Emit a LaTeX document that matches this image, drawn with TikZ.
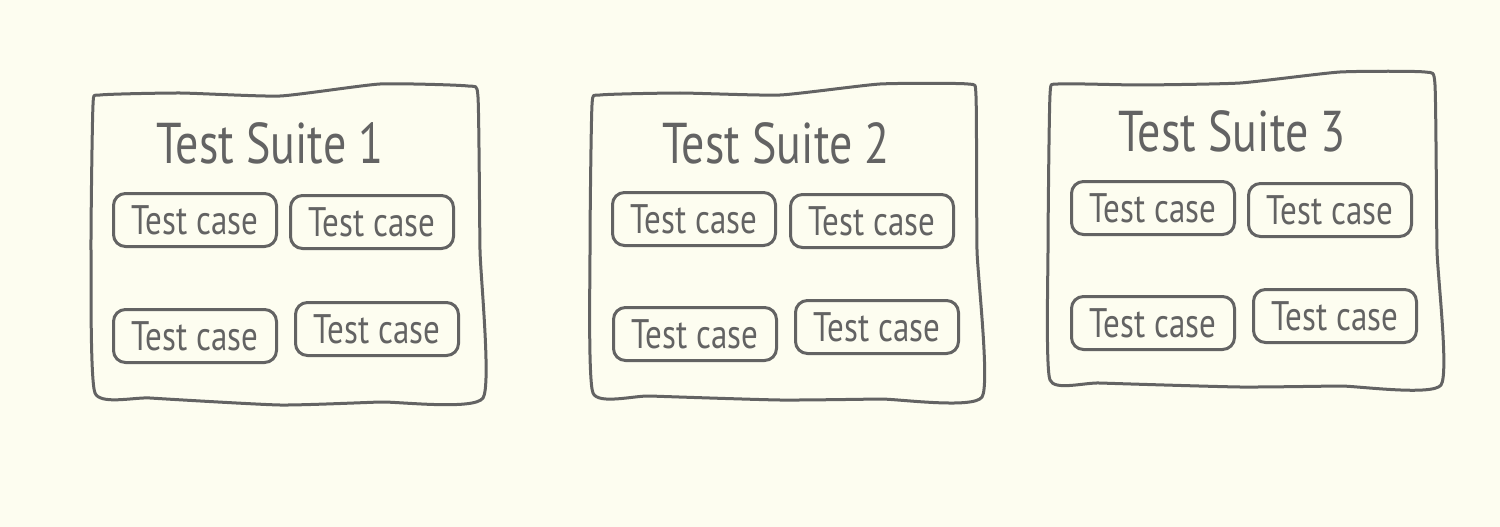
\documentclass[tikz,border=0pt]{standalone}
\usepackage{graphicx}
\usepackage{fontspec}
\setmainfont{PT Sans}
\definecolor{bg}{HTML}{FDFDF0}
\definecolor{ink}{HTML}{636363}
\newcommand{\tall}[1]{\scalebox{1}[1.25]{#1}}
\begin{document}
\begin{tikzpicture}[x=1pt,y=-1pt,
  suiteline/.style={draw=ink,line width=3pt,line join=round},
  casebox/.style={draw=ink,line width=3pt,rounded corners=12pt,minimum width=163pt,minimum height=53pt,inner sep=0pt,text=ink,font=\fontsize{33}{38}\selectfont},
  titletext/.style={text=ink,inner sep=0pt,font=\fontsize{46}{52}\selectfont}]
\fill[bg] (0,0) rectangle (1500,527);
\useasboundingbox (0,0) rectangle (1500,527);
% suite 1
\draw[suiteline] plot[smooth cycle,tension=0.3] coordinates {(100,95) (180,93) (280,96) (380,84) (468,86) (478,97) (480,250) (483,398) (380,402) (280,405) (150,398) (95,393) (91,250) (93,105)};
\node[titletext] (t1) at (270,143) {\tall{Test Suite 1}};
\node[casebox] (c11) at (195,220) {\tall{Test case}};
\node[casebox] (c12) at (372,222) {\tall{Test case}};
\node[casebox] (c13) at (195,336) {\tall{Test case}};
\node[casebox] (c14) at (377,329) {\tall{Test case}};
% suite 2
\draw[suiteline] plot[smooth cycle,tension=0.3] coordinates {(600,95) (680,93) (780,95) (880,84) (968,84) (976,96) (977,250) (982,397) (880,399) (780,400) (650,396) (593,393) (590,250) (592,105)};
\node[titletext] (t2) at (776,143) {\tall{Test Suite 2}};
\node[casebox] (c21) at (694,219) {\tall{Test case}};
\node[casebox] (c22) at (872,221) {\tall{Test case}};
\node[casebox] (c23) at (695,334) {\tall{Test case}};
\node[casebox] (c24) at (877,327) {\tall{Test case}};
% suite 3
\draw[suiteline] plot[smooth cycle,tension=0.3] coordinates {(1058,84) (1140,85) (1240,83) (1340,72) (1425,72) (1435,85) (1437,250) (1441,385) (1340,386) (1240,387) (1100,383) (1050,380) (1048,250) (1050,95)};
\node[titletext] (t3) at (1232,131) {\tall{Test Suite 3}};
\node[casebox] (c31) at (1153,208) {\tall{Test case}};
\node[casebox] (c32) at (1330,210) {\tall{Test case}};
\node[casebox] (c33) at (1153,323) {\tall{Test case}};
\node[casebox] (c34) at (1335,316) {\tall{Test case}};
\end{tikzpicture}
\end{document}
